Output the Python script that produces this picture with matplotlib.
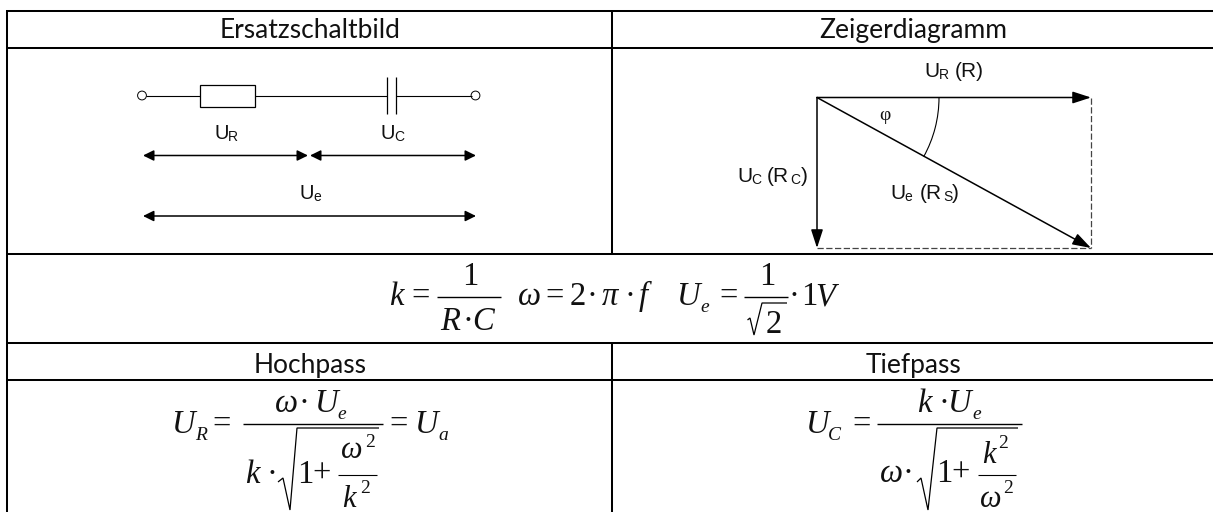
import matplotlib
matplotlib.use("Agg")
import matplotlib.pyplot as plt
from matplotlib.patches import Arc, Circle, Rectangle

# table texts
headers_top = ["Ersatzschaltbild", "Zeigerdiagramm"]
headers_bottom = ["Hochpass", "Tiefpass"]

W, H = 1213, 512
fig = plt.figure(figsize=(W / 100, H / 100), dpi=100)
ax = fig.add_axes([0, 0, 1, 1])
ax.set_xlim(0, W)
ax.set_ylim(H, 0)  # pixel coordinates, y down
ax.axis("off")

HEAD = "Lato"
SANS = "Liberation Sans"
SERIF = "Liberation Serif"


def line(xs, ys, lw=1.0):
    ax.plot(xs, ys, color="black", lw=lw, solid_capstyle="butt", solid_joinstyle="miter")


def txt(x, y, s, size=14, font=SANS, style="normal", ha="left"):
    ax.text(x, y, s, fontsize=size, family=font, style=style, ha=ha, va="baseline", color="#111111")


def arrow(x0, y0, x1, y1, style, scale, lw=1.1):
    ax.annotate("", xy=(x1, y1), xytext=(x0, y0),
                arrowprops=dict(arrowstyle=style, mutation_scale=scale, color="black", lw=lw,
                                shrinkA=0, shrinkB=0))


def it(x, y, s, size=23.5):
    txt(x, y, s, size=size, font=SERIF, style="italic")


def rm(x, y, s, size=23.5):
    txt(x, y, s, size=size, font=SERIF)


# table grid
for yy in [11, 48, 254, 343, 380]:
    line([6, 1213], [yy, yy], 1.45)
line([7, 7], [10, 512], 1.45)
line([612, 612], [11, 254], 1.45)
line([612, 612], [343, 512], 1.45)

txt(310, 38, headers_top[0], size=19, font=HEAD, ha="center")
txt(913, 38, headers_top[1], size=19, font=HEAD, ha="center")
txt(310, 373, headers_bottom[0], size=19, font=HEAD, ha="center")
txt(913, 373, headers_bottom[1], size=19, font=HEAD, ha="center")

# circuit
line([146, 200], [95.5, 95.5], 0.8)
line([255, 387], [95.5, 95.5], 0.8)
line([396, 472], [95.5, 95.5], 0.8)
ax.add_patch(Rectangle((200, 84.5), 55, 22, fc="white", ec="black", lw=0.9))
line([386.5, 386.5], [77, 114], 0.9)
line([395.5, 395.5], [77, 114], 0.9)
ax.add_patch(Circle((142, 95.5), 4.4, fc="white", ec="black", lw=0.7))
ax.add_patch(Circle((475.5, 95.5), 4.4, fc="white", ec="black", lw=0.7))

small_head = "<|-|>,head_length=0.65,head_width=0.32"
arrow(143, 155.5, 308, 155.5, small_head, 10)
arrow(310, 155.5, 476, 155.5, small_head, 10)
arrow(143, 216, 476, 216, small_head, 10)
txt(214, 139, "U", 14.5)
txt(228, 141, "R", 10)
txt(380, 139, "U", 14.5)
txt(394, 141, "C", 10)
txt(299.5, 199, "U", 14.5)
txt(313.5, 201, "e", 10)

# phasor diagram
big_head = "-|>,head_length=0.8,head_width=0.26"
arrow(817, 97.5, 1091, 97.5, big_head, 14)
arrow(817, 97.5, 817, 248, big_head, 14)
arrow(817, 97.5, 1091, 248, big_head, 14)
ax.plot([1091, 1091], [97.5, 248], color="#444444", lw=0.9, ls=(0, (5, 2)))
ax.plot([817, 1091], [248, 248], color="#444444", lw=0.9, ls=(0, (5, 2)))
ax.add_patch(Arc((817, 97.5), 244, 244, theta1=0, theta2=29, color="black", lw=0.8))
txt(924.5, 77, "U", 15)
txt(938.5, 79, "R", 10)
txt(955, 77, "(R)", 15)
txt(737, 182, "U", 15)
txt(751, 184, "C", 10)
txt(767, 182, "(R", 15)
txt(790, 184, "C", 10)
txt(801, 182, ")", 15)
txt(890, 199, "U", 15)
txt(904, 201, "e", 10)
txt(920, 199, "(R", 15)
txt(943, 201, "S", 10)
txt(952, 199, ")", 15)
txt(879, 120, "φ", 14, font=SERIF)

# k, omega, Ue row
it(389, 305, "k")
rm(411, 305, "=")
rm(462, 285, "1")
line([437, 501], [297, 297], 1.0)
it(440, 330, "R")
rm(462, 330, "·")
it(472, 330, "C")
it(518, 305, "ω")
rm(545, 305, "=")
rm(570, 305, "2")
rm(587, 305, "·")
it(602, 305, "π")
rm(625, 305, "·")
it(639, 305, "f")
it(677, 305, "U")
it(700, 312, "e", 14)
rm(719, 305, "=")
rm(759, 285, "1")
line([744, 788], [297, 297], 1.0)
line([747.5, 750, 754, 762, 787], [320, 318, 335, 303, 303], 0.9)
rm(766, 333, "2")
rm(788, 305, "·")
rm(801, 305, "1")
it(815, 305, "V")

# high pass
it(172, 433, "U")
it(195, 440, "R", 14)
rm(212, 433, "=")
it(275, 412, "ω")
rm(299, 412, "·")
it(315, 412, "U")
it(337, 419, "e", 14)
line([243, 383], [424, 424], 1.0)
line([278, 283, 290, 297, 379], [482, 478, 510, 428, 428], 0.9)
it(245, 483, "k")
rm(266, 483, "·")
rm(297, 483, "1")
rm(312, 483, "+")
it(341, 458, "ω", 22)
rm(365, 447, "2", 14)
line([338, 377], [475, 475], 0.8)
it(342, 507, "k", 22)
rm(360, 493, "2", 14)
rm(389, 433, "=")
it(415, 433, "U")
it(438, 440, "a", 14)

# low pass
it(806, 433, "U")
it(828, 440, "C", 14)
rm(852, 433, "=")
it(917, 412, "k")
rm(939, 412, "·")
it(948, 412, "U")
it(972, 419, "e", 14)
line([877, 1022], [424, 424], 1.0)
line([917, 921, 928, 937, 1018], [482, 478, 510, 428, 428], 0.9)
it(880, 482, "ω")
rm(903, 482, "·")
rm(936, 482, "1")
rm(951, 482, "+")
it(982, 463, "k", 22)
rm(998, 448, "2", 14)
line([978, 1016], [475, 475], 0.8)
it(980, 507, "ω", 22)
rm(1003, 493, "2", 14)

fig.savefig("out.png", dpi=100)
